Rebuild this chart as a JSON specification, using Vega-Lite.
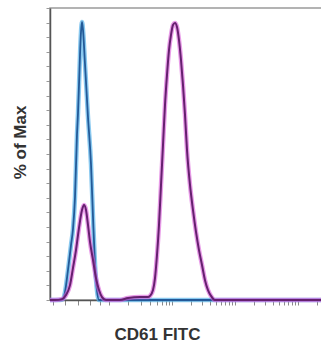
{
  "$schema": "https://vega.github.io/schema/vega-lite/v6.json",
  "autosize": "none",
  "padding": {"left": 50, "top": 8, "right": 0, "bottom": 46},
  "width": 275,
  "height": 292,
  "background": "white",
  "config": {
    "view": {"stroke": "#9a9a9a", "strokeWidth": 1.5},
    "font": "Liberation Sans"
  },
  "data": {"values": [
    {"s":"blue","x":0,"v":0},{"s":"blue","x":10,"v":0},{"s":"blue","x":13,"v":0.3},{"s":"blue","x":15,"v":2.7},{"s":"blue","x":18,"v":10.3},{"s":"blue","x":21,"v":18.8},{"s":"blue","x":23,"v":24.3},{"s":"blue","x":25,"v":35.2},{"s":"blue","x":27,"v":56.8},{"s":"blue","x":28,"v":64.0},{"s":"blue","x":29,"v":73.6},{"s":"blue","x":30,"v":83.9},{"s":"blue","x":31,"v":91.8},{"s":"blue","x":32,"v":95.2},{"s":"blue","x":33,"v":92.5},{"s":"blue","x":35,"v":80.8},{"s":"blue","x":38,"v":62.6},{"s":"blue","x":41,"v":46.5},{"s":"blue","x":43,"v":28.4},{"s":"blue","x":45,"v":12.3},{"s":"blue","x":47,"v":3.2},{"s":"blue","x":49,"v":0},{"s":"blue","x":275,"v":0},
    {"s":"purple","x":0,"v":0},{"s":"purple","x":5,"v":0},{"s":"purple","x":12,"v":0.3},{"s":"purple","x":16,"v":1.7},{"s":"purple","x":20,"v":5.1},{"s":"purple","x":23,"v":11.0},{"s":"purple","x":26,"v":17.1},{"s":"purple","x":29,"v":24.7},{"s":"purple","x":32,"v":30.8},{"s":"purple","x":34,"v":32.5},{"s":"purple","x":36,"v":30.8},{"s":"purple","x":38,"v":25.7},{"s":"purple","x":40,"v":19.9},{"s":"purple","x":43,"v":13.7},{"s":"purple","x":46,"v":7.5},{"s":"purple","x":49,"v":3.4},{"s":"purple","x":52,"v":1.0},{"s":"purple","x":56,"v":0},{"s":"purple","x":70,"v":0},{"s":"purple","x":78,"v":0.7},{"s":"purple","x":90,"v":1.0},{"s":"purple","x":98,"v":1.0},{"s":"purple","x":100,"v":1.4},{"s":"purple","x":103,"v":3.4},{"s":"purple","x":105,"v":7.5},{"s":"purple","x":107,"v":15.4},{"s":"purple","x":109,"v":25.7},{"s":"purple","x":111,"v":39.4},{"s":"purple","x":113,"v":53.1},{"s":"purple","x":115,"v":66.8},{"s":"purple","x":117,"v":77.1},{"s":"purple","x":119,"v":85.6},{"s":"purple","x":121,"v":90.8},{"s":"purple","x":123,"v":94.2},{"s":"purple","x":125,"v":94.9},{"s":"purple","x":127,"v":93.5},{"s":"purple","x":129,"v":89.0},{"s":"purple","x":131,"v":82.2},{"s":"purple","x":133,"v":73.6},{"s":"purple","x":135,"v":63.4},{"s":"purple","x":137,"v":51.4},{"s":"purple","x":140,"v":39.4},{"s":"purple","x":143,"v":30.8},{"s":"purple","x":146,"v":23.3},{"s":"purple","x":149,"v":17.1},{"s":"purple","x":152,"v":12.0},{"s":"purple","x":155,"v":6.8},{"s":"purple","x":158,"v":3.4},{"s":"purple","x":161,"v":1.4},{"s":"purple","x":165,"v":0},{"s":"purple","x":275,"v":0}
  ]},
  "encoding": {
    "x": {"field": "x", "type": "quantitative",
      "scale": {"domain": [0, 275], "nice": false, "zero": false},
      "axis": {"title": "CD61 FITC", "labels": false, "grid": false,
        "values": [3, 15, 28, 40, 50, 59, 78, 91, 100, 107, 112, 116, 119, 122, 141, 152, 160, 166, 171, 175, 179, 182, 185, 204, 215, 223, 229, 234, 238, 242, 245, 248, 267],
        "tickSize": 5, "tickColor": "#8a8a8a", "domainColor": "#555555", "domainWidth": 1.5,
        "titleFont": "Liberation Sans", "titleFontSize": 17, "titleFontWeight": "bold", "titleColor": "#333333",
        "titleX": 107, "titleY": 34, "titleBaseline": "middle", "titleAlign": "center"}},
    "y": {"field": "v", "type": "quantitative",
      "scale": {"domain": [0, 100], "nice": false},
      "axis": {"title": "% of Max", "labels": false, "grid": false,
        "values": [0, 5, 10, 15, 20, 25, 30, 35, 40, 45, 50, 55, 60, 65, 70, 75, 80, 85, 90, 95, 100],
        "tickSize": 4, "tickColor": "#9a9a9a", "domainColor": "#555555", "domainWidth": 1.5,
        "titleFont": "Liberation Sans", "titleFontSize": 17, "titleFontWeight": "bold", "titleColor": "#333333",
        "titleAngle": 270, "titleX": -30, "titleY": 134, "titleBaseline": "middle", "titleAlign": "center"}}
  },
  "layer": [
    {"transform": [{"filter": "datum.s == 'blue'"}],
     "mark": {"type": "line", "interpolate": "monotone", "color": "#59b2ea", "strokeWidth": 4.5, "opacity": 0.7}},
    {"transform": [{"filter": "datum.s == 'blue'"}],
     "mark": {"type": "line", "interpolate": "monotone", "color": "#235a98", "strokeWidth": 1.8}},
    {"transform": [{"filter": "datum.s == 'purple'"}],
     "mark": {"type": "line", "interpolate": "monotone", "color": "#d85ad8", "strokeWidth": 4.5, "opacity": 0.6}},
    {"transform": [{"filter": "datum.s == 'purple'"}],
     "mark": {"type": "line", "interpolate": "monotone", "color": "#66206f", "strokeWidth": 2}}
  ]
}
